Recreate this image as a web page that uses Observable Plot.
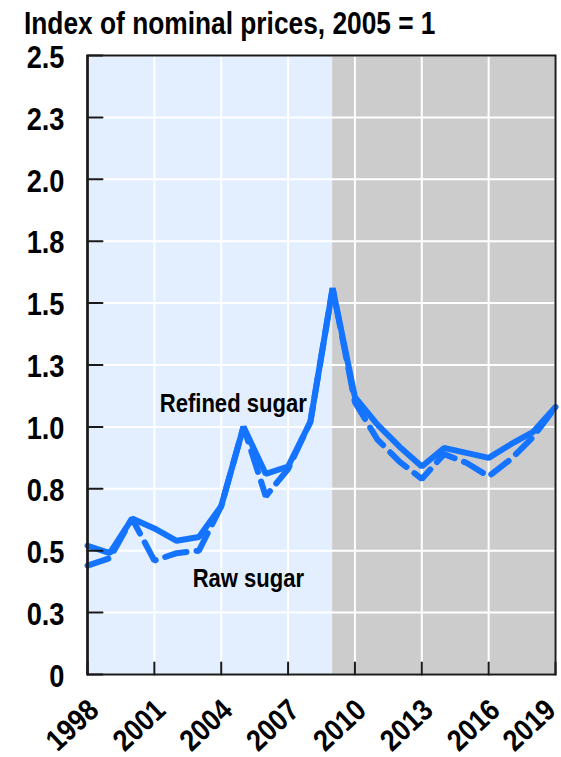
<!DOCTYPE html>
<html>
<head>
<meta charset="utf-8">
<script src="https://cdn.jsdelivr.net/npm/d3@7"></script>
<script src="https://cdn.jsdelivr.net/npm/@observablehq/plot@0.6"></script>
<style>
  html, body { margin: 0; padding: 0; background: #fff; }
  body { width: 561px; height: 757px; overflow: hidden; font-family: "Liberation Sans", Arial, sans-serif; }
  #title { height: 35px; position: relative; }
  #title span { position: absolute; left: 24px; top: 7px; font-size: 31.5px; font-weight: bold; line-height: 32px; white-space: nowrap; color: #000; transform: scaleX(0.835); transform-origin: 0 0; }
  #chart svg { display: block; overflow: visible; }
</style>
</head>
<body>
<div id="title"><span>Index of nominal prices, 2005 = 1</span></div>
<div id="chart"></div>
<script>
const years = [1998,1999,2000,2001,2002,2003,2004,2005,2006,2007,2008,2009,2010,2011,2012,2013,2014,2015,2016,2017,2018,2019];
const refinedSugar = [0.52,0.49,0.63,0.59,0.54,0.555,0.68,1.00,0.81,0.84,1.02,1.56,1.12,1.01,0.92,0.84,0.915,0.895,0.875,0.93,0.98,1.08];
const rawSugar = [0.44,0.47,0.63,0.46,0.49,0.50,0.68,1.00,0.72,0.83,1.02,1.56,1.10,0.95,0.86,0.79,0.89,0.855,0.80,0.87,0.96,1.08];

const xTicks = [1998,2001,2004,2007,2010,2013,2016,2019];
const xTickLabels = ["1998","2001","2004","2007","2010","2013","2016","2019"];
const yTicks = [0,0.25,0.5,0.75,1.0,1.25,1.5,1.75,2.0,2.25,2.5];
const yTickLabels = ["0","0.3","0.5","0.8","1.0","1.3","1.5","1.8","2.0","2.3","2.5"];

const periodStart = [1998, 2009];
const periodEnd = [2009, 2019];

const seriesLabels = ["Refined sugar", "Raw sugar"];
const seriesLabelYear = [2004.54, 2005.22];
const seriesLabelValue = [1.092, 0.386];

const refinedData = years.map((y, i) => ({year: y, value: refinedSugar[i]}));
const rawData = years.map((y, i) => ({year: y, value: rawSugar[i]}));
const periods = periodStart.map((s, i) => ({start: s, end: periodEnd[i]}));
const labelData = seriesLabels.map((t, i) => ({text: t, year: seriesLabelYear[i], value: seriesLabelValue[i]}));
const xLabelData = xTicks.map((t, i) => ({year: t, label: xTickLabels[i], last: i === xTicks.length - 1}));

const BLUE = "#1473ff";
const periodFills = ["#e3efff", "#cccccc"];
const FONT = '"Liberation Sans", Arial, sans-serif';
const tickShape = {draw(ctx, l) { ctx.moveTo(0, 0); ctx.lineTo(0, -l); }};
const xLabelStyle = {x: "year", y: 0, text: "label", textAnchor: "end", lineAnchor: "bottom", rotate: -43, dy: 38, fontSize: 30, fontWeight: "bold", fill: "#000", className: "xlab"};

const chart = Plot.plot({
  width: 561,
  height: 722,
  marginTop: 20,
  marginBottom: 83,
  marginLeft: 87,
  marginRight: 6,
  style: {fontFamily: FONT, fontWeight: "bold", color: "#000", background: "transparent", overflow: "visible"},
  x: {domain: [1998, 2019], axis: null},
  y: {domain: [0, 2.5], axis: null},
  marks: [
    Plot.rect(periods, {x1: "start", x2: "end", y1: 0, y2: 2.5, fill: (d, i) => periodFills[i]}),
    Plot.ruleY(yTicks, {y: d => d, stroke: "white", strokeWidth: 2}),
    Plot.ruleX(xTicks, {x: d => d, stroke: "white", strokeWidth: 2}),
    Plot.line(rawData, {x: "year", y: "value", stroke: BLUE, strokeWidth: 6, strokeDasharray: "22,10", strokeLinejoin: "miter"}),
    Plot.line(refinedData, {x: "year", y: "value", stroke: BLUE, strokeWidth: 6, strokeLinejoin: "miter"}),
    Plot.frame({stroke: "#1a1a1a", strokeWidth: 2}),
    Plot.ruleX([1998], {x: d => d, stroke: "#1a1a1a", strokeWidth: 2.5}),
    Plot.vector(yTicks, {x: 1998, y: d => d, length: 15, rotate: 90, anchor: "start", stroke: "#1a1a1a", strokeWidth: 2, shape: tickShape}),
    Plot.vector(xTicks, {x: d => d, y: 0, length: 12, rotate: 0, anchor: "start", stroke: "#1a1a1a", strokeWidth: 2, shape: tickShape}),
    Plot.text(yTicks, {x: 1998, y: d => d, text: (d, i) => yTickLabels[i], textAnchor: "end", dx: -23, dy: 2, fontSize: 32, fontWeight: "bold", fill: "#000", className: "ylab"}),
    Plot.text(xLabelData, Plot.filter(d => !d.last, {...xLabelStyle, dx: 13})),
    Plot.text(xLabelData, Plot.filter(d => d.last, {...xLabelStyle, dx: 2})),
    Plot.text(labelData, {x: "year", y: "value", text: "text", textAnchor: "middle", lineAnchor: "middle", fontSize: 25.5, fontWeight: "bold", fill: "#000", className: "slab"})
  ]
});
// condense the glyphs horizontally (narrow bold face look)
const squeeze = {ylab: 0.85, xlab: 0.88, slab: 0.865};
for (const [cls, k] of Object.entries(squeeze)) {
  chart.querySelectorAll(`g.${cls} text`).forEach(t => {
    const tr = t.getAttribute("transform") || "";
    t.setAttribute("transform", `${tr} scale(${k},1)`);
  });
}
document.getElementById("chart").appendChild(chart);
</script>
</body>
</html>
